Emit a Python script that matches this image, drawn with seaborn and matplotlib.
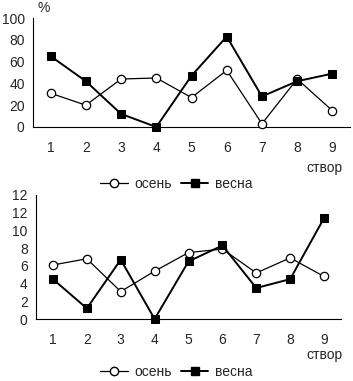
import matplotlib
matplotlib.use("Agg")
import matplotlib.pyplot as plt
from matplotlib.lines import Line2D
import seaborn as sns

sns.set_style("white")
plt.rcParams['font.family'] = ['Liberation Sans Narrow', 'Liberation Sans', 'DejaVu Sans']

stvor = [1, 2, 3, 4, 5, 6, 7, 8, 9]
# top panel, %
top_osen = [31, 20, 44, 45, 27, 52, 3, 44, 15]
top_vesna = [65, 42, 12, 0, 47, 83, 28, 42, 49]
top_yticks = [0, 20, 40, 60, 80, 100]
top_ylabels = ["0", "20", "40", "60", "80", "100"]
# bottom panel
bot_osen = [6.1, 6.8, 3.1, 5.4, 7.5, 7.9, 5.2, 6.9, 4.8]
bot_vesna = [4.5, 1.2, 6.7, 0, 6.5, 8.3, 3.5, 4.5, 11.4]
bot_yticks = [0, 2, 4, 6, 8, 10, 12, 14]
bot_ylabels = ["0", "2", "4", "6", "8", "10", "12", "12"]

fig = plt.figure(figsize=(3.53, 3.81), dpi=100)
ax1 = fig.add_axes([0.0935, 0.6667, 0.898, 0.286])
ax2 = fig.add_axes([0.102, 0.1627, 0.864, 0.3255])

fs = 10


def draw(ax, osen, vesna, yticks, ylabels, ymax):
    sns.lineplot(x=stvor, y=osen, ax=ax, color='black', lw=0.9, marker='o',
                 markersize=6, markerfacecolor='white', markeredgecolor='black',
                 markeredgewidth=0.9, zorder=3)
    sns.lineplot(x=stvor, y=vesna, ax=ax, color='black', lw=1.4, marker='s',
                 markersize=6, markerfacecolor='black', markeredgecolor='black',
                 zorder=3)
    ax.set_xlim(0.5, 9.5)
    ax.set_ylim(0, ymax)
    ax.set_yticks(yticks)
    ax.set_yticklabels(ylabels, fontsize=fs)
    ax.set_xticks([i + 0.5 for i in range(0, 10)])
    ax.set_xticklabels([])
    ax.set_xticks(stvor, minor=True)
    ax.set_xticklabels([str(s) for s in stvor], minor=True, fontsize=fs)
    ax.tick_params(axis='x', which='major', direction='out', length=7, width=0.8, color='black')
    ax.tick_params(axis='x', which='minor', length=0, pad=10)
    ax.tick_params(axis='y', direction='out', length=4, width=0.8, color='black', pad=2)
    for s in ['top', 'right']:
        ax.spines[s].set_visible(False)
    for s in ['left', 'bottom']:
        ax.spines[s].set_color('black')
        ax.spines[s].set_linewidth(0.8)
    for ln in ax.lines:
        ln.set_clip_on(False)


draw(ax1, top_osen, top_vesna, top_yticks, top_ylabels, 100)
draw(ax2, bot_osen, bot_vesna, bot_yticks, bot_ylabels, 14)

fig.text(0.105, 0.978, "%", fontsize=fs, ha='left', va='center')
fig.text(0.97, 0.559, "створ", fontsize=fs, ha='right', va='center')
fig.text(0.97, 0.068, "створ", fontsize=fs, ha='right', va='center')

handles = [
    Line2D([], [], color='black', lw=0.9, marker='o', markersize=6,
           markerfacecolor='white', markeredgecolor='black'),
    Line2D([], [], color='black', lw=1.4, marker='s', markersize=6,
           markerfacecolor='black'),
]
for y in [0.517, 0.024]:
    fig.legend(handles, ["осень", "весна"], loc='center', bbox_to_anchor=(0.5, y),
               ncol=2, frameon=False, fontsize=fs, handlelength=2.0,
               handletextpad=0.5, columnspacing=0.6, borderpad=0)

fig.savefig("out.png", dpi=100)
